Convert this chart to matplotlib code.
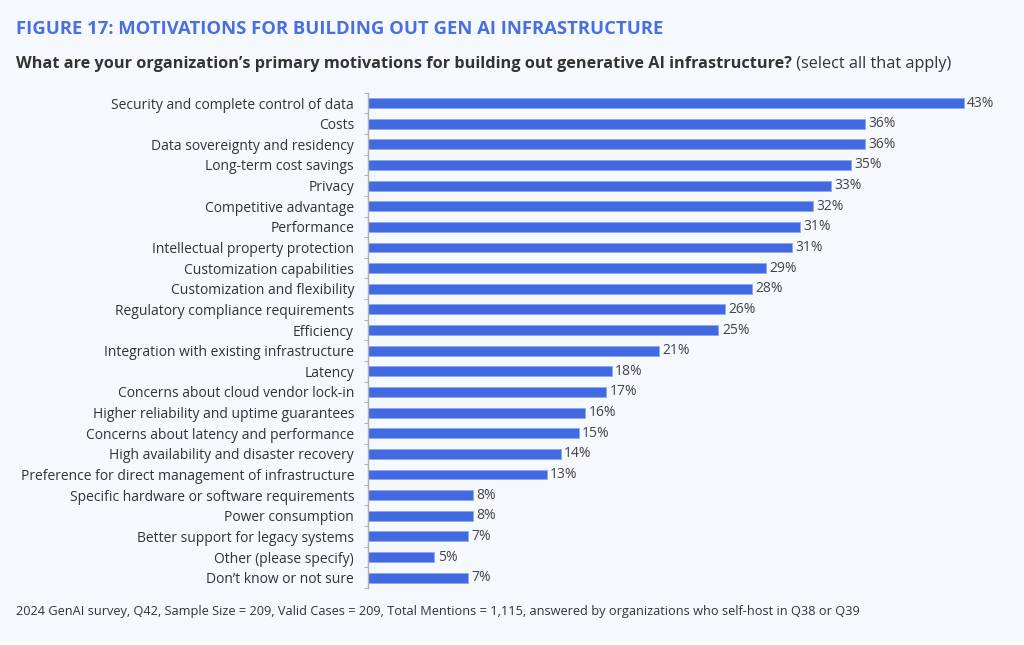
import matplotlib
matplotlib.use("Agg")
import matplotlib.pyplot as plt
from matplotlib.patches import Rectangle

# Данные (читаются с картинки)
categories = [
    "Security and complete control of data",
    "Costs",
    "Data sovereignty and residency",
    "Long-term cost savings",
    "Privacy",
    "Competitive advantage",
    "Performance",
    "Intellectual property protection",
    "Customization capabilities",
    "Customization and flexibility",
    "Regulatory compliance requirements",
    "Efficiency",
    "Integration with existing infrastructure",
    "Latency",
    "Concerns about cloud vendor lock-in",
    "Higher reliability and uptime guarantees",
    "Concerns about latency and performance",
    "High availability and disaster recovery",
    "Preference for direct management of infrastructure",
    "Specific hardware or software requirements",
    "Power consumption",
    "Better support for legacy systems",
    "Other (please specify)",
    "Don\u2019t know or not sure",
]
values = [43.0, 35.9, 35.9, 34.9, 33.4, 32.1, 31.2, 30.6, 28.7, 27.7, 25.8, 25.3,
          21.0, 17.6, 17.2, 15.7, 15.2, 13.9, 12.9, 7.6, 7.6, 7.2, 4.8, 7.2]
value_labels = ["43%", "36%", "36%", "35%", "33%", "32%", "31%", "31%", "29%", "28%",
                "26%", "25%", "21%", "18%", "17%", "16%", "15%", "14%", "13%", "8%",
                "8%", "7%", "5%", "7%"]

title = "FIGURE 17: MOTIVATIONS FOR BUILDING OUT GEN AI INFRASTRUCTURE"
question = "What are your organization\u2019s primary motivations for building out generative AI infrastructure?"
question_note = " (select all that apply)"
footer = ("2024 GenAI survey, Q42, Sample Size = 209, Valid Cases = 209, Total Mentions = 1,115, "
          "answered by organizations who self-host in Q38 or Q39")

# Стиль
BG = "#f5f9fd"
BAR = "#4169e1"
TEXT = "#333333"
plt.rcParams["font.family"] = ["Open Sans", "DejaVu Sans"]

W, H = 1024, 645
fig = plt.figure(figsize=(W / 100, H / 100), dpi=100, facecolor=BG)
# белая полоска снизу
fig.patches.append(Rectangle((0, 0), 1, 4 / H, transform=fig.transFigure,
                             facecolor="white", edgecolor="none", zorder=-1))

ax = fig.add_axes([368 / W, 1 - 588 / H, 651 / W, (588 - 92.7) / H])
ax.set_facecolor(BG)

y = list(range(len(categories)))
ax.barh(y, values, height=0.48, color=BAR, edgecolor="#8fa8ef", linewidth=0.6)

for yi, v, lab in zip(y, values, value_labels):
    ax.text(v + 0.25, yi, lab, va="center", ha="left", fontsize=10, color="#444444")

ax.set_xlim(0, 47)
ax.set_ylim(len(categories) - 0.54, -0.46)

ax.set_yticks(y)
ax.set_yticklabels(categories, fontsize=10, color=TEXT)
ax.tick_params(axis="y", which="major", length=0, pad=10)
ax.set_yticks([i - 0.5 for i in range(len(categories) + 1)], minor=True)
ax.tick_params(axis="y", which="minor", length=3, width=0.8, color="#b0b0b0")
ax.set_xticks([])

for side in ["top", "right", "bottom"]:
    ax.spines[side].set_visible(False)
ax.spines["left"].set_color("#b0b0b0")
ax.spines["left"].set_linewidth(1)

# Заголовки
fig.text(16 / W, 1 - 29 / H, title, fontsize=13.3, fontweight="bold", color="#4a6fe0",
         va="center", ha="left")
q = fig.text(16 / W, 1 - 64 / H, question, fontsize=11.7, fontweight="bold", color=TEXT,
             va="center", ha="left")
fig.canvas.draw()
bb = q.get_window_extent(renderer=fig.canvas.get_renderer())
fig.text(bb.x1 / W, 1 - 64 / H, question_note, fontsize=11.7, color=TEXT,
         va="center", ha="left")

fig.text(16 / W, 1 - 612 / H, footer, fontsize=9.2, color=TEXT, va="center", ha="left")

fig.savefig("out.png", dpi=100, facecolor=BG)
plt.close(fig)
